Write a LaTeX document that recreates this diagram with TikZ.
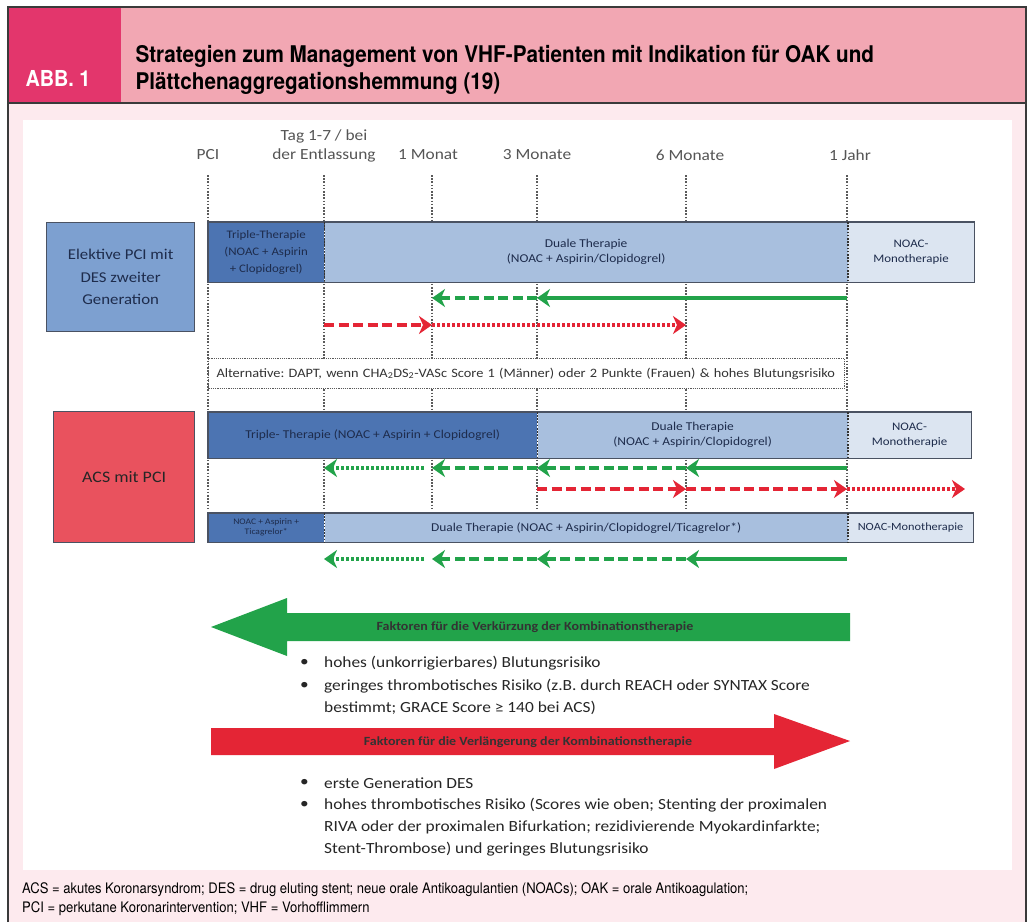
\documentclass[tikz,border=0pt]{standalone}
\usepackage{fontspec}
\setmainfont{Carlito}[FakeStretch=1.12]
\newfontfamily\headfont[FakeStretch=0.9]{TeX Gyre Heros}
\usetikzlibrary{positioning,arrows.meta}
\frenchspacing

\definecolor{abbpink}{HTML}{E3366C}
\definecolor{headpink}{HTML}{F2A7B3}
\definecolor{bgpink}{HTML}{FDEAEE}
\definecolor{framegrey}{HTML}{3A3A3A}
\definecolor{tickgrey}{HTML}{5A5A5A}
\definecolor{labelgrey}{HTML}{555555}
\definecolor{navy}{HTML}{1E2C4C}
\definecolor{elekblue}{HTML}{7DA0D0}
\definecolor{tripleblue}{HTML}{4C74B2}
\definecolor{dualblue}{HTML}{A8BFDE}
\definecolor{monoblue}{HTML}{DCE5F1}
\definecolor{acsred}{HTML}{E9525E}
\definecolor{barline}{HTML}{4A5262}
\definecolor{arrowgreen}{HTML}{22A34A}
\definecolor{arrowred}{HTML}{E42535}

\begin{document}
\begin{tikzpicture}[x=1pt,y=-1pt,>={Stealth[length=13pt,width=18pt,inset=4pt]},
	tick/.style={draw=tickgrey,line width=1.4pt,dash pattern=on 1.6pt off 1.6pt},
	timelbl/.style={text=labelgrey,font=\fontsize{15.5}{18.5}\selectfont,align=center},
	bar/.style={anchor=north west,inner sep=0pt,align=center,text=navy,font=\fontsize{12}{15}\selectfont},
	group/.style={anchor=north west,draw=barline,line width=1.3pt,align=center,text=navy,font=\fontsize{15}{22.5}\selectfont},
	garrow/.style={draw=arrowgreen,line width=3.8pt,->},
	rarrow/.style={draw=arrowred,line width=3.8pt,->},
	dashline/.style={dash pattern=on 10pt off 4.5pt},
	dotline/.style={dash pattern=on 2.6pt off 2.4pt},
	factor/.style={font=\bfseries\fontsize{12.5}{14}\selectfont,text=black!80},
	bulletline/.style={anchor=west,inner sep=0pt,font=\fontsize{15.5}{19}\selectfont,text=black!85},
	]
	\useasboundingbox (0,0) rectangle (1029,922);

	% frame and header
	\fill[bgpink] (8,103) rectangle (1026,922);
	\fill[headpink] (8,8) rectangle (1026,103);
	\fill[abbpink] (8,8) rectangle (121,103);
	\draw[framegrey,line width=1.5pt] (8,922) -- (8,7) -- (1026,7) -- (1026,922);
	\draw[framegrey,line width=1.2pt] (8,103) -- (1026,103);
	\node (abb) [anchor=west,text=white,font=\headfont\bfseries\fontsize{22}{26}\selectfont] at (22,78) {ABB. 1};
	\node (title) [anchor=west,align=left,font=\headfont\bfseries\fontsize{23}{26.5}\selectfont] at (132,70)
		{Strategien zum Management von VHF-Patienten mit Indikation für OAK und\\Plättchenaggregationshemmung (19)};
	\fill[white] (23,120) rectangle (1012,870);

	% time points
	\coordinate (t0) at (208,175);
	\coordinate (t1) at (324,175);
	\coordinate (t2) at (432,175);
	\coordinate (t3) at (537,175);
	\coordinate (t4) at (686,175);
	\coordinate (t5) at (847,175);
	\coordinate (bot) at (0,510);
	\foreach \t in {t0,t1,t2,t3,t4,t5}
		\draw[tick] (\t) -- (\t |- bot);

	\node (lpci) [timelbl] at (208,155) {PCI};
	\node (lent) [timelbl] at (324,146) {Tag 1-7 / bei\\der Entlassung};
	\node (lm1) [timelbl] at (428,155) {1 Monat};
	\node (lm3) [timelbl] at (537,155) {3 Monate};
	\node (lm6) [timelbl] at (690,155) {6 Monate};
	\node (ljahr) [timelbl] at (850,155) {1 Jahr};

	% elective PCI
	\node (elek) [group,fill=elekblue,minimum width=148pt,minimum height=109pt] at (46,222) {Elektive PCI mit\\DES zweiter\\Generation};
	\node (etri) [bar,fill=tripleblue,minimum width=116pt,minimum height=60pt,font=\fontsize{11.5}{17}\selectfont] at (208,222) {Triple-Therapie\\(NOAC + Aspirin\\+ Clopidogrel)};
	\node (edual) [bar,fill=dualblue,minimum width=523pt,minimum height=60pt,right=0pt of etri] {Duale Therapie\\(NOAC + Aspirin/Clopidogrel)};
	\node (emono) [bar,fill=monoblue,minimum width=126pt,minimum height=60pt,right=0pt of edual,font=\fontsize{11.5}{15}\selectfont] {NOAC-\\Monotherapie};
	\draw[barline,line width=1.3pt] (etri.north west) rectangle (emono.south east);
	\draw[tick,draw=black!80] (etri.north east) -- (etri.south east);
	\draw[tick,draw=black!80] (edual.north east) -- (edual.south east);

	\coordinate (r1) at (0,298);
	\coordinate (r2) at (0,325);
	\draw[garrow] (t5 |- r1) -- (t3 |- r1);
	\draw[garrow,dashline] (t3 |- r1) -- (t2 |- r1);
	\draw[rarrow,dashline] (t1 |- r2) -- (t2 |- r2);
	\draw[rarrow,dotline] (t2 |- r2) -- (t4 |- r2);

	% alternative
	\node (alt) [anchor=north west,draw=tickgrey,line width=1pt,dash pattern=on 1.2pt off 1pt,fill=white,
		minimum width=635pt,minimum height=30pt,text width=620pt,align=left,inner xsep=8pt,
		text=black!80,font=\fontsize{12.8}{15}\selectfont] at (208,358)
		{Alternative: DAPT, wenn CHA\textsubscript{2}DS\textsubscript{2}-VASc Score 1 (Männer) oder 2 Punkte (Frauen) \& hohes Blutungsrisiko};

	% ACS with PCI
	\node (acs) [group,fill=acsred,minimum width=141pt,minimum height=131pt,text=black!85,font=\fontsize{16}{20}\selectfont] at (53,411) {ACS mit PCI};
	\node (atri) [bar,fill=tripleblue,minimum width=329pt,minimum height=46pt] at (208,412) {Triple- Therapie (NOAC + Aspirin + Clopidogrel)};
	\node (adual) [bar,fill=dualblue,minimum width=310pt,minimum height=46pt,right=0pt of atri] {Duale Therapie\\(NOAC + Aspirin/Clopidogrel)};
	\node (amono) [bar,fill=monoblue,minimum width=123pt,minimum height=46pt,right=0pt of adual,font=\fontsize{11.5}{15}\selectfont] {NOAC-\\Monotherapie};
	\draw[barline,line width=1.3pt] (atri.north west) rectangle (amono.south east);
	\draw[tick,draw=black!80] (atri.north east) -- (atri.south east);
	\draw[tick,draw=black!80] (adual.north east) -- (adual.south east);

	\coordinate (r3) at (0,468);
	\coordinate (r4) at (0,489);
	\coordinate (rend) at (965,489);
	\draw[garrow] (t5 |- r3) -- (t4 |- r3);
	\draw[garrow,dashline] (t4 |- r3) -- (t3 |- r3);
	\draw[garrow,dashline] (t3 |- r3) -- (t2 |- r3);
	\draw[garrow,dotline] ([xshift=-8pt]t2 |- r3) -- (t1 |- r3);
	\draw[rarrow,dashline] (t3 |- r4) -- (t4 |- r4);
	\draw[rarrow,dashline] (t4 |- r4) -- (t5 |- r4);
	\draw[rarrow,dotline] (t5 |- r4) -- (rend);

	\node (btri) [bar,fill=tripleblue,minimum width=116pt,minimum height=29pt,font=\fontsize{8.5}{10}\selectfont] at (208,513) {NOAC + Aspirin +\\Ticagrelor*};
	\node (bdual) [bar,fill=dualblue,minimum width=523pt,minimum height=29pt,right=0pt of btri] {Duale Therapie (NOAC + Aspirin/Clopidogrel/Ticagrelor*)};
	\node (bmono) [bar,fill=monoblue,minimum width=125pt,minimum height=29pt,right=0pt of bdual,font=\fontsize{11}{13}\selectfont] {NOAC-Monotherapie};
	\draw[barline,line width=1.3pt] (btri.north west) rectangle (bmono.south east);
	\draw[tick,draw=black!80] (btri.north east) -- (btri.south east);
	\draw[tick,draw=black!80] (bdual.north east) -- (bdual.south east);

	\coordinate (r5) at (0,559);
	\draw[garrow] (t5 |- r5) -- (t4 |- r5);
	\draw[garrow,dashline] (t4 |- r5) -- (t3 |- r5);
	\draw[garrow,dashline] (t3 |- r5) -- (t2 |- r5);
	\draw[garrow,dotline] ([xshift=-8pt]t2 |- r5) -- (t1 |- r5);

	% factors
	\fill[arrowgreen] (211,627) -- (287,598) -- (287,613) -- (850,613) -- (850,641) -- (287,641) -- (287,656) -- cycle;
	\node (kurz) [factor] at (535,627) {Faktoren für die Verkürzung der Kombinationstherapie};
	\node (s1) [bulletline] at (300,663) {\textbullet};
	\node (s1t) [bulletline] at (324,663) {hohes (unkorrigierbares) Blutungsrisiko};
	\node (s2) [bulletline] at (300,686) {\textbullet};
	\node (s2t) [bulletline] at (324,686) {geringes thrombotisches Risiko (z.B. durch REACH oder SYNTAX Score};
	\node (s3t) [bulletline] at (324,708) {bestimmt; GRACE Score ≥ 140 bei ACS)};

	\fill[arrowred] (850,741) -- (774,714) -- (774,728) -- (211,728) -- (211,755) -- (774,755) -- (774,769) -- cycle;
	\node (lang) [factor] at (528,742) {Faktoren für die Verlängerung der Kombinationstherapie};
	\node (p1) [bulletline] at (300,783) {\textbullet};
	\node (p1t) [bulletline] at (324,783) {erste Generation DES};
	\node (p2) [bulletline] at (300,805) {\textbullet};
	\node (p2t) [bulletline] at (324,805) {hohes thrombotisches Risiko (Scores wie oben; Stenting der proximalen};
	\node (p3t) [bulletline] at (324,827) {RIVA oder der proximalen Bifurkation; rezidivierende Myokardinfarkte;};
	\node (p4t) [bulletline] at (324,849) {Stent-Thrombose) und geringes Blutungsrisiko};

	% abbreviations
	\node (abbr) [anchor=north west,align=left,inner sep=0pt,font=\headfont\fontsize{14.5}{19.5}\selectfont] at (22,882)
		{ACS = akutes Koronarsyndrom; DES = drug eluting stent; neue orale Antikoagulantien (NOACs); OAK = orale Antikoagulation;\\PCI = perkutane Koronarintervention; VHF = Vorhofflimmern};
\end{tikzpicture}
\end{document}
